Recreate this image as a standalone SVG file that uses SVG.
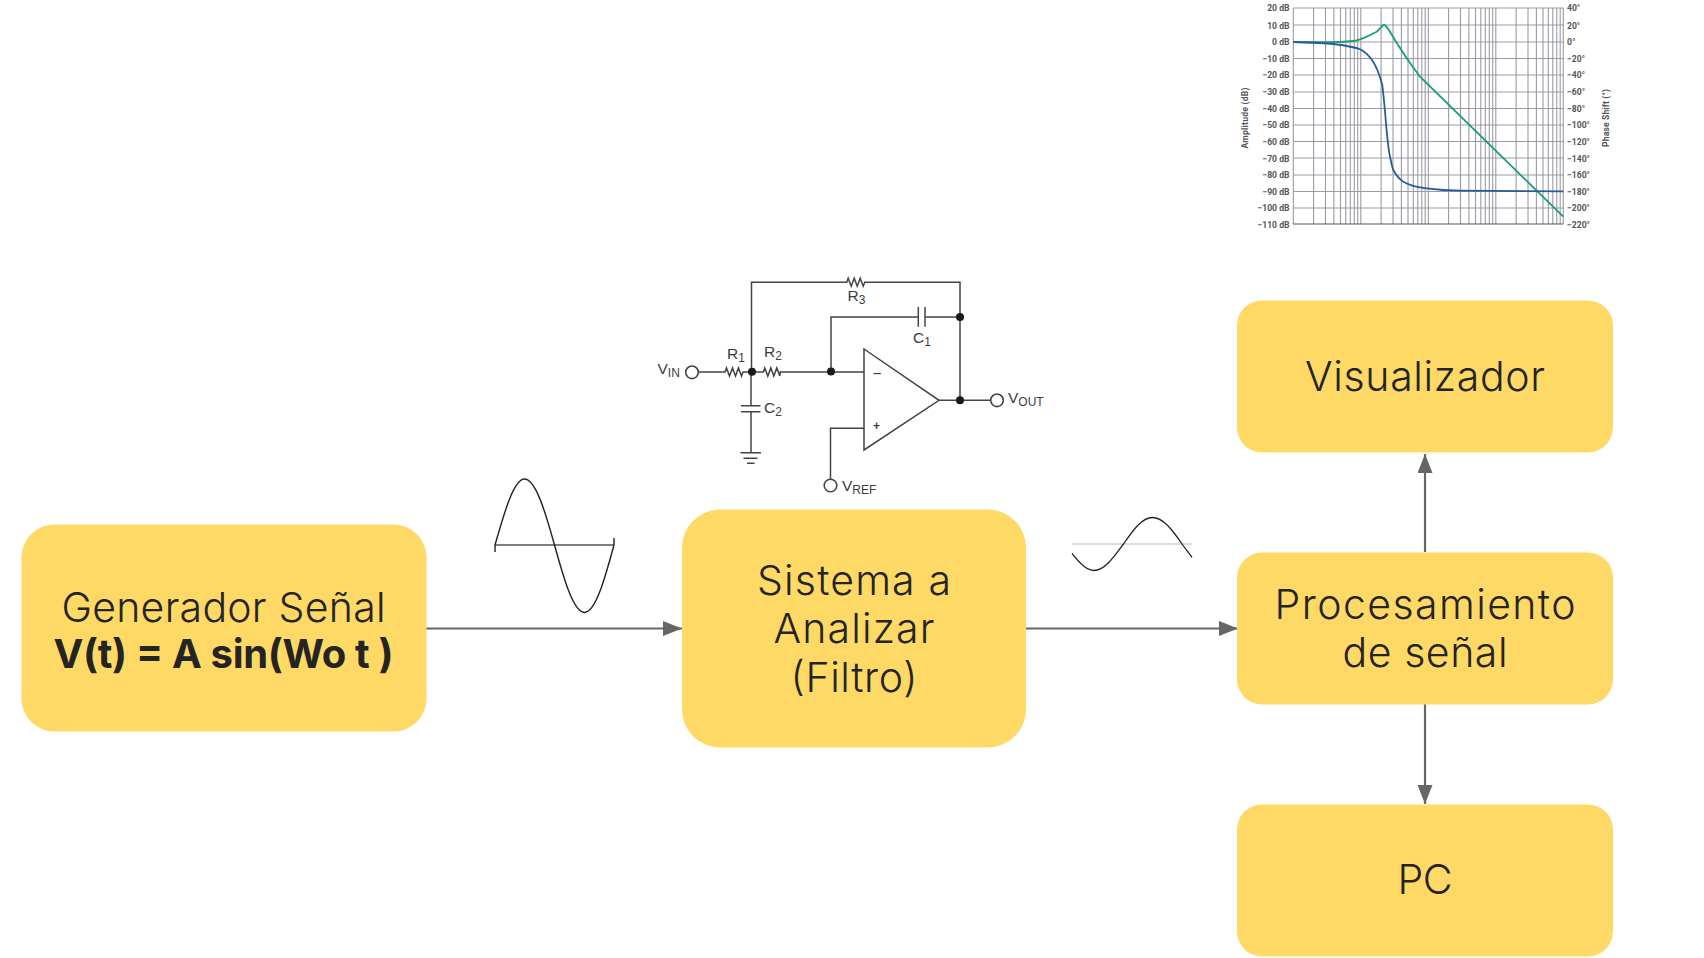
<svg xmlns="http://www.w3.org/2000/svg" width="1704" height="958" viewBox="0 0 1704 958">
<style>
.box{fill:#ffd966}
.t{font-family:Inter,"Open Sans","Liberation Sans",sans-serif;font-size:41px;font-weight:300;fill:#242424;text-anchor:middle}
.b{font-weight:700;font-size:40px}
.conn{fill:none;stroke:#666;stroke-width:2.2}
.w{fill:none;stroke:#444;stroke-width:1.5}
.d{fill:#1a1a1a}
.o{fill:#fff;stroke:#444;stroke-width:1.6}
.c{font-family:"Liberation Sans",Arial,sans-serif;font-size:15.5px;fill:#3c3c3c}
.s{font-size:12px}
.g{fill:none;stroke:#9a9aa5;stroke-width:1.1}
.l{font-family:Roboto,"Liberation Sans",sans-serif;font-size:8.6px;font-weight:700;fill:#555}
.r{text-anchor:end}
</style>
<defs>
<marker id="ah" markerUnits="userSpaceOnUse" markerWidth="20" markerHeight="16" refX="19" refY="7.5" orient="auto"><path d="M0 0L19 7.5L0 15Z" fill="#666"/></marker>
</defs>
<rect width="1704" height="958" fill="#fff"/>
<g id="connectors">
<path class="conn" d="M426 628.500H682" marker-end="url(#ah)"/>
<path class="conn" d="M1026 628.500H1238" marker-end="url(#ah)"/>
<path class="conn" d="M1425 552V454" marker-end="url(#ah)"/>
<path class="conn" d="M1425 704V804" marker-end="url(#ah)"/>
</g>
<g id="generador"><rect class="box" x="21.500" y="524.500" width="405" height="207" rx="33"/>
<text class="t" x="223.500" y="621.500" textLength="324">Generador Señal</text>
<text class="t b" x="223.500" y="667.500" textLength="340">V(t) = A sin(Wo t )</text></g>
<g id="sistema"><rect class="box" x="682" y="509.500" width="344" height="238" rx="38"/>
<text class="t" x="854" y="595" textLength="194">Sistema a</text>
<text class="t" x="854" y="643" textLength="161">Analizar</text>
<text class="t" x="854" y="691.500" textLength="127">(Filtro)</text></g>
<g id="visualizador"><rect class="box" x="1237" y="300.500" width="376" height="152" rx="25"/>
<text class="t" x="1425" y="391" textLength="240">Visualizador</text></g>
<g id="procesamiento"><rect class="box" x="1237" y="552.500" width="376" height="152" rx="25"/>
<text class="t" x="1425" y="619" textLength="301">Procesamiento</text>
<text class="t" x="1425" y="667" textLength="165">de señal</text></g>
<g id="pc"><rect class="box" x="1237" y="804.500" width="376" height="152" rx="25"/>
<text class="t" x="1425" y="894" textLength="55">PC</text></g>
<g id="sine-in">
<path d="M495 545H614" fill="none" stroke="#555" stroke-width="1.5"/>
<path d="M495 552V545C504.800 510.700 514 479 524.500 479C535.400 479 545 510.700 554.500 545C564 579.300 573.500 612.500 584.500 612.500C595.400 612.500 604.700 579.300 614 545V538" fill="none" stroke="#222" stroke-width="1.400"/>
</g>
<g id="sine-out">
<path d="M1072 544H1192" fill="none" stroke="#bbb" stroke-width="1"/>
<path d="M1072 553.400C1079.300 563.100 1086.700 570.500 1094 570.500C1104.700 570.500 1113.900 557 1123.500 544C1133.100 530 1142 517.500 1152.500 517.500C1163 517.500 1172.500 530 1182 544C1185.500 549 1189 553 1192 557.300" fill="none" stroke="#222" stroke-width="1.300"/>
</g>
<g id="circuito">
<path class="w" d="M751.500 372V282.200H846.700l1.500 -4 3 8 3 -8 3 8 3 -8 3 8 1.500 -4H960V400.500"/>
<path class="w" d="M831 371.500V317H918.300M925 317H960"/>
<path class="w" d="M918.300 307V326.700M925 307V326.700"/>
<path class="w" d="M698 372H725l1.500 -4 3 8 3 -8 3 8 3 -8 3 8 1.500 -4H763.300l1.500 -4 3 8 3 -8 3 8 3 -8 3 8 .500 -4H864"/>
<path class="w" d="M864 349L939 400.300L864 450Z"/>
<path class="w" d="M939 400.300H990"/>
<path class="w" d="M864 428.300H830.500V479"/>
<path class="w" d="M751 372V405.700M741 405.700H760.500M741 411.700H760.500M751 411.700V452.700M740.500 452.700H761M743.500 458.300H757.500M747 463.300H754.500"/>
<circle class="d" cx="752" cy="371.800" r="4"/><circle class="d" cx="831" cy="371.500" r="4"/><circle class="d" cx="960" cy="317" r="4"/><circle class="d" cx="960" cy="400.300" r="4"/>
<circle class="o" cx="692" cy="372.300" r="6.300"/><circle class="o" cx="997" cy="400.300" r="6.300"/><circle class="o" cx="830.500" cy="485.500" r="6.300"/>
<text class="c" x="657.500" y="373.500">V<tspan class="s" dy="3">IN</tspan></text>
<text class="c" x="727" y="358.700">R<tspan class="s" dy="3">1</tspan></text>
<text class="c" x="764" y="356.700">R<tspan class="s" dy="3">2</tspan></text>
<text class="c" x="847.500" y="300.500">R<tspan class="s" dy="3">3</tspan></text>
<text class="c" x="913" y="343.300">C<tspan class="s" dy="3">1</tspan></text>
<text class="c" x="764" y="412.500">C<tspan class="s" dy="3">2</tspan></text>
<text class="c" x="1008" y="403">V<tspan class="s" dy="3">OUT</tspan></text>
<text class="c" x="842" y="490.700">V<tspan class="s" dy="3">REF</tspan></text>
<text class="c" x="872.500" y="378.500">−</text>
<text class="c s" x="873" y="430" font-weight="700">+</text>
</g>
<g id="bode">
<path class="g" d="M1293.300 8V224M1313.600 8V224M1325.500 8V224M1333.900 8V224M1340.500 8V224M1345.800 8V224M1350.300 8V224M1354.300 8V224M1357.700 8V224M1360.800 8V224M1381.100 8V224M1393 8V224M1401.400 8V224M1408 8V224M1413.300 8V224M1417.800 8V224M1421.800 8V224M1425.200 8V224M1428.300 8V224M1448.600 8V224M1460.500 8V224M1468.900 8V224M1475.500 8V224M1480.800 8V224M1485.300 8V224M1489.300 8V224M1492.700 8V224M1495.800 8V224M1516.100 8V224M1528 8V224M1536.400 8V224M1543 8V224M1548.300 8V224M1552.800 8V224M1556.800 8V224M1560.200 8V224M1563.300 8V224"/>
<path class="g" d="M1293 8H1563.300M1293 25H1563.300M1293 42H1563.300M1293 58.500H1563.300M1293 75H1563.300M1293 92H1563.300M1293 108.500H1563.300M1293 125H1563.300M1293 141.500H1563.300M1293 158H1563.300M1293 175H1563.300M1293 191.500H1563.300M1293 208H1563.300"/>
<path d="M1293 224H1563.300" fill="none" stroke="#555" stroke-width="1.200"/>
<path d="M1293.300 42C1320 42.500 1340 42.500 1353.300 41C1362 40 1368 36 1376.700 31.700C1380 29 1382 25 1384 25C1386 25 1388 29 1390 31.700C1396 42 1403 54 1420 76.700L1563.300 216.700" fill="none" stroke="#1a9e78" stroke-width="1.800"/>
<path d="M1293.300 42C1310 42.500 1325 43 1333.300 44C1345 45.500 1355 47 1360 49.300C1366 52 1369 56 1372 60C1377 67 1381 80 1382.300 85C1384 100 1385 110 1385.700 120C1387 135 1388.500 150 1390 156.700C1391.500 163 1392 167 1393.300 170C1396 175 1399 179 1403.300 181.700C1410 185.500 1418 187.500 1426.700 188.300C1440 190 1450 190.500 1460 190.700L1563.300 191.300" fill="none" stroke="#2a5a9e" stroke-width="1.800"/>
<g class="l">
<text class="r" x="1289.500" y="11.300">20 dB</text><text class="r" x="1289.500" y="28.500">10 dB</text><text class="r" x="1289.500" y="45.300">0 dB</text><text class="r" x="1289.500" y="61.800">−10 dB</text><text class="r" x="1289.500" y="78.300">−20 dB</text><text class="r" x="1289.500" y="95.300">−30 dB</text><text class="r" x="1289.500" y="111.800">−40 dB</text><text class="r" x="1289.500" y="128.300">−50 dB</text><text class="r" x="1289.500" y="144.800">−60 dB</text><text class="r" x="1289.500" y="161.500">−70 dB</text><text class="r" x="1289.500" y="178.300">−80 dB</text><text class="r" x="1289.500" y="194.800">−90 dB</text><text class="r" x="1289.500" y="211.300">−100 dB</text><text class="r" x="1289.500" y="228">−110 dB</text>
<text x="1567" y="11.300">40°</text><text x="1567" y="28.500">20°</text><text x="1567" y="45.300">0°</text><text x="1567" y="61.800">−20°</text><text x="1567" y="78.300">−40°</text><text x="1567" y="95.300">−60°</text><text x="1567" y="111.800">−80°</text><text x="1567" y="128.300">−100°</text><text x="1567" y="144.800">−120°</text><text x="1567" y="161.500">−140°</text><text x="1567" y="178.300">−160°</text><text x="1567" y="194.800">−180°</text><text x="1567" y="211.300">−200°</text><text x="1567" y="228">−220°</text>
<text transform="translate(1248 118) rotate(-90)" text-anchor="middle" textLength="61">Amplitude (dB)</text>
<text transform="translate(1608.500 118) rotate(-90)" text-anchor="middle" textLength="58">Phase Shift (°)</text>
</g>
</g>
</svg>
